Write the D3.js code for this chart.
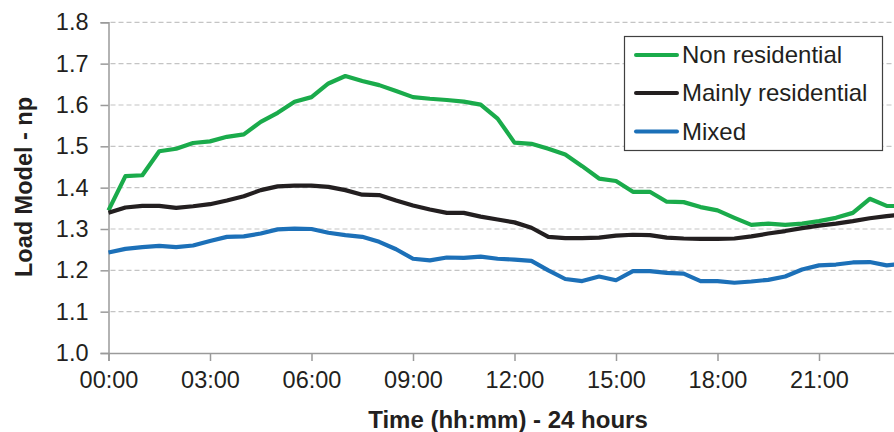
<!DOCTYPE html>
<html>
<head>
<meta charset="utf-8">
<script src="https://cdn.jsdelivr.net/npm/d3@7"></script>
<style>
  html, body { margin: 0; padding: 0; background: #fff; }
  svg { display: block; font-family: "Liberation Sans", Arial, sans-serif; }
</style>
</head>
<body>
<svg id="chart" width="894" height="432"></svg>
<script>
// Half-hourly sample times over one day
const times = [
  "00:00","00:30","01:00","01:30","02:00","02:30","03:00","03:30",
  "04:00","04:30","05:00","05:30","06:00","06:30","07:00","07:30",
  "08:00","08:30","09:00","09:30","10:00","10:30","11:00","11:30",
  "12:00","12:30","13:00","13:30","14:00","14:30","15:00","15:30",
  "16:00","16:30","17:00","17:30","18:00","18:30","19:00","19:30",
  "20:00","20:30","21:00","21:30","22:00","22:30","23:00","23:30"
];

// Load model values (np) per area type
const nonResidential = [
  1.345, 1.428, 1.430, 1.488, 1.494, 1.508, 1.512, 1.523,
  1.529, 1.559, 1.581, 1.608, 1.619, 1.652, 1.670, 1.658,
  1.648, 1.634, 1.619, 1.615, 1.612, 1.608, 1.601, 1.567,
  1.509, 1.506, 1.494, 1.480, 1.452, 1.422, 1.416, 1.390,
  1.390, 1.366, 1.365, 1.353, 1.345, 1.327, 1.310, 1.313,
  1.310, 1.313, 1.319, 1.327, 1.339, 1.373, 1.356, 1.355
];
const mainlyResidential = [
  1.339, 1.352, 1.356, 1.356, 1.351, 1.355, 1.360, 1.369,
  1.379, 1.394, 1.403, 1.405, 1.405, 1.402, 1.394, 1.383,
  1.382, 1.369, 1.357, 1.347, 1.339, 1.339, 1.330, 1.323,
  1.316, 1.303, 1.281, 1.278, 1.278, 1.279, 1.284, 1.286,
  1.285, 1.279, 1.277, 1.276, 1.276, 1.277, 1.282, 1.289,
  1.295, 1.302, 1.308, 1.313, 1.319, 1.326, 1.331, 1.335
];
const mixed = [
  1.243, 1.252, 1.256, 1.259, 1.256, 1.260, 1.271, 1.281,
  1.282, 1.289, 1.299, 1.301, 1.300, 1.291, 1.285, 1.281,
  1.269, 1.251, 1.228, 1.224, 1.231, 1.230, 1.233, 1.228,
  1.226, 1.223, 1.200, 1.179, 1.174, 1.185, 1.176, 1.198,
  1.198, 1.194, 1.192, 1.174, 1.174, 1.170, 1.173, 1.177,
  1.185, 1.202, 1.212, 1.214, 1.219, 1.220, 1.212, 1.216
];

const seriesNames = ["Non residential", "Mainly residential", "Mixed"];
const seriesColors = ["#1aab4b", "#231f20", "#1c70b8"];
const seriesValues = [nonResidential, mainlyResidential, mixed];

const yTicks = [1.0, 1.1, 1.2, 1.3, 1.4, 1.5, 1.6, 1.7, 1.8];
const xTickHours = [0, 3, 6, 9, 12, 15, 18, 21];
const xTitle = "Time (hh:mm) - 24 hours";
const yTitle = "Load Model - np";

const toHours = s => { const [h, m] = s.split(":").map(Number); return h + m / 60; };
const fmtHour = h => String(h).padStart(2, "0") + ":00";

const svg = d3.select("#chart");
const plotLeft = 108.5, plotTop = 22.3, plotBottom = 353;

const x = d3.scaleLinear().domain([0, 24]).range([plotLeft, 920.5]);
const y = d3.scaleLinear().domain([1.0, 1.8]).range([plotBottom, plotTop]);

// dashed horizontal gridlines
svg.append("g")
  .selectAll("line")
  .data(yTicks.filter(v => v > 1.0))
  .join("line")
  .attr("x1", plotLeft + 2).attr("x2", 894)
  .attr("y1", d => y(d)).attr("y2", d => y(d))
  .attr("stroke", "#c4c4c4")
  .attr("stroke-width", 1.2)
  .attr("stroke-dasharray", "5,3");

// y axis
const yAxis = svg.append("g")
  .attr("transform", `translate(${plotLeft},0)`)
  .call(d3.axisLeft(y).tickValues(yTicks).tickFormat(d3.format(".1f")).tickSizeOuter(0).tickSize(8).tickPadding(12));
yAxis.select(".domain").attr("stroke", "#9a9a9a").attr("stroke-width", 1.5);
yAxis.selectAll(".tick line").attr("stroke", "#9a9a9a").attr("stroke-width", 1.5);
yAxis.selectAll(".tick text").attr("font-size", 23.5).attr("fill", "#231f20")
  .attr("font-family", "Liberation Sans, Arial, sans-serif");

// x axis
const xAxis = svg.append("g")
  .attr("transform", `translate(0,${plotBottom})`)
  .call(d3.axisBottom(x).tickValues(xTickHours).tickFormat(fmtHour).tickSizeOuter(0).tickSize(8).tickPadding(10));
xAxis.select(".domain").attr("stroke", "#9a9a9a").attr("stroke-width", 1.5);
xAxis.selectAll(".tick line").attr("stroke", "#9a9a9a").attr("stroke-width", 1.5);
xAxis.selectAll(".tick text").attr("font-size", 23.5).attr("fill", "#231f20")
  .attr("font-family", "Liberation Sans, Arial, sans-serif");

// series lines
const line = d3.line()
  .x((d, i) => x(toHours(times[i])))
  .y(d => y(d));

svg.append("g")
  .selectAll("path")
  .data(seriesValues)
  .join("path")
  .attr("d", d => line(d))
  .attr("fill", "none")
  .attr("stroke", (d, i) => seriesColors[i])
  .attr("stroke-width", 4.2)
  .attr("stroke-linejoin", "round");

// axis titles
svg.append("text")
  .attr("x", 508).attr("y", 428)
  .attr("text-anchor", "middle")
  .attr("font-size", 24).attr("font-weight", "bold").attr("fill", "#231f20")
  .text(xTitle);

svg.append("text")
  .attr("transform", `translate(32,187) rotate(-90)`)
  .attr("text-anchor", "middle")
  .attr("font-size", 23.5).attr("font-weight", "bold").attr("fill", "#231f20")
  .text(yTitle);

// legend
const legend = svg.append("g");
legend.append("rect")
  .attr("x", 624.5).attr("y", 36.5)
  .attr("width", 258).attr("height", 114)
  .attr("fill", "#fff").attr("stroke", "#404040").attr("stroke-width", 1.2);

const rowY = [55, 93, 131.5];
const items = legend.selectAll("g.item")
  .data(seriesNames)
  .join("g")
  .attr("class", "item")
  .attr("transform", (d, i) => `translate(0,${rowY[i]})`);
items.append("line")
  .attr("x1", 636).attr("x2", 677)
  .attr("stroke", (d, i) => seriesColors[i])
  .attr("stroke-width", 4).attr("stroke-linecap", "round");
items.append("text")
  .attr("x", 682).attr("dy", "0.35em")
  .attr("font-size", 24).attr("fill", "#231f20")
  .text(d => d);
</script>
</body>
</html>
